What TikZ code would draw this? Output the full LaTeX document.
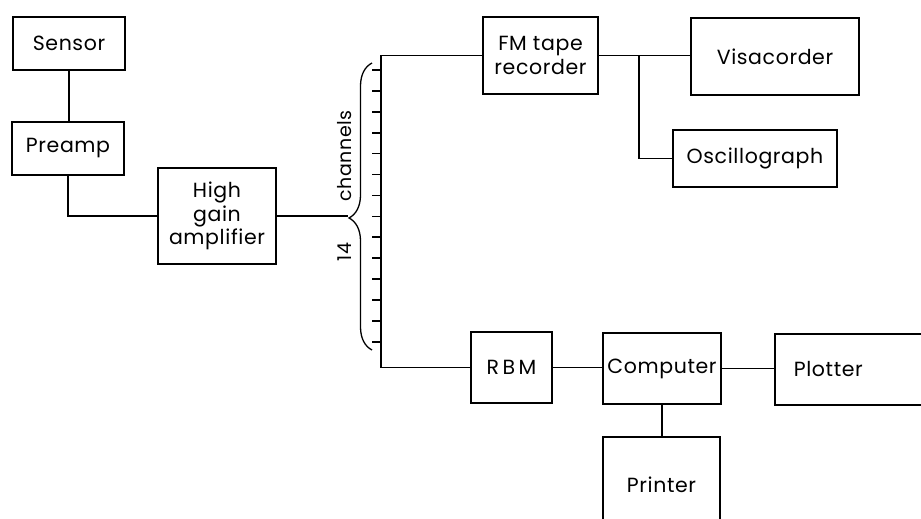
\documentclass[tikz,border=0pt]{standalone}
\usepackage{fontspec}
\setmainfont{Poppins}[LetterSpace=3]
\usetikzlibrary{decorations.pathreplacing}

\begin{document}
\begin{tikzpicture}[x=1pt,y=-1pt,
    box/.style={draw,line width=1.6pt,inner sep=0pt,align=center,
        font=\fontsize{20.5}{23.5}\selectfont},
    wire/.style={line width=1.6pt},
    lbl/.style={rotate=90,font=\fontsize{19}{24}\selectfont}]
    \useasboundingbox (0,0) rectangle (921,519);
    \clip (0,0) rectangle (921,519);

    % Input chain
    \node[box,minimum width=112pt,minimum height=53pt] (sensor) at (69,43.5) {Sensor};
    \node[box,minimum width=112pt,minimum height=53pt] (preamp) at (68,148.5) {Preamp};
    \node[box,minimum width=118pt,minimum height=96pt] (amp) at (217,216) {High\\gain\\amplifier};

    \draw[wire] (sensor.south) -- (sensor.south |- preamp.north);
    \draw[wire] (preamp.south) |- (amp.west);

    % Channel brace
    \coordinate (tip) at (348,216);
    \coordinate (bustop) at (381,55.5);
    \coordinate (busbot) at (381,367.5);
    \draw[line width=1.3pt,decorate,decoration={brace,amplitude=23pt,aspect=0.46}]
        (372,350) -- (372,63);
    \foreach \i in {0,...,13}
        \draw[wire] (372,{70+20.9*\i}) -- (381,{70+20.9*\i});
    \node[lbl] (chan) at (345,156) {channels};
    \node[lbl] (num) at (345,252) {14};
    \draw[wire] (amp.east) -- (tip);

    % Recording branch
    \node[box,minimum width=115pt,minimum height=77pt] (fm) at (540.5,55.5) {FM tape\\recorder};
    \node[box,minimum width=168pt,minimum height=77pt] (visa) at (775,56.5) {Visacorder};
    \node[box,minimum width=164pt,minimum height=57pt] (osc) at (755,158.5) {Oscillograph};
    \coordinate (split) at (639,55.5);

    \draw[wire] (fm.west) -- (bustop) -- (busbot);
    \draw[wire] (fm.east) -- (fm.east -| visa.west);
    \draw[wire] (split) |- (osc.west);

    % Computing branch
    \node[box,minimum width=81pt,minimum height=71pt] (rbm) at (511.5,367.5) {R\,B\,M};
    \node[box,minimum width=118pt,minimum height=71pt] (comp) at (662,368.5) {Computer};
    \node[box,anchor=west,minimum height=71pt,inner xsep=19pt,text width=128pt,align=left]
        (plot) at (774,369.5) {Plotter};
    \node[box,minimum width=117pt,minimum height=96pt] (printer) at (661.5,485) {Printer};

    \draw[wire] (busbot) -- (rbm.west);
    \draw[wire] (rbm.east) -- (rbm.east -| comp.west);
    \draw[wire] (comp.east) -- (comp.east -| plot.west);
    \draw[wire] (comp.south) -- (comp.south |- printer.north);
\end{tikzpicture}
\end{document}
